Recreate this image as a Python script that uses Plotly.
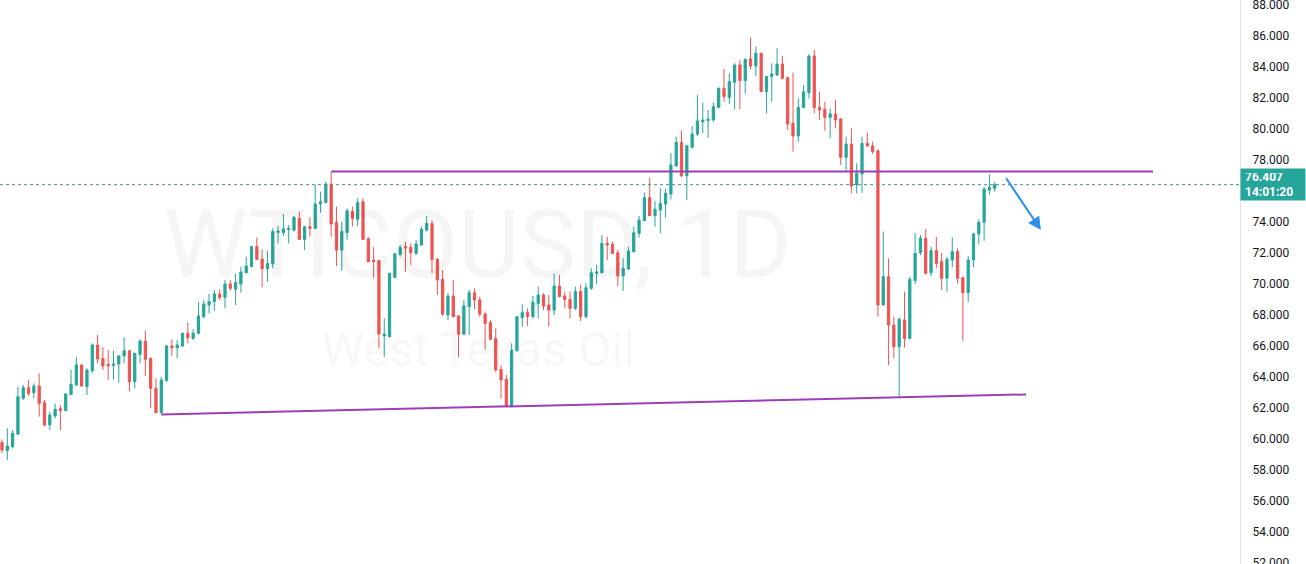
import plotly.graph_objs as go

# daily WTI candles (oldest first)
opens = [
    59.77, 59.25, 59.51, 60.32, 62.63, 63.31, 62.99, 63.42, 62.35, 60.91,
    61.49, 61.96, 61.83, 62.88, 63.49, 64.78, 63.38, 64.41, 66.07, 65.20,
    64.82, 64.75, 64.84, 65.36, 65.70, 63.70, 65.46, 66.32, 65.20, 63.27,
    61.70, 63.77, 66.00, 65.89, 66.00, 66.82, 66.50, 66.82, 67.89, 68.65,
    68.86, 69.36, 69.14, 70.00, 69.66, 70.00, 70.73, 71.12, 72.41, 71.61,
    70.99, 71.29, 73.33, 73.31, 73.51, 73.48, 74.24, 72.88, 73.70, 73.59,
    75.16, 75.25, 76.45, 73.96, 72.19, 73.31, 74.67, 74.17, 75.31, 72.92,
    71.55, 71.51, 66.65, 66.60, 70.43, 71.91, 72.41, 72.37, 71.98, 72.52,
    73.48, 73.91, 71.59, 70.30, 68.00, 69.23, 67.94, 66.77, 68.54, 69.44,
    68.97, 68.06, 67.51, 66.49, 64.49, 63.85, 62.09, 65.70, 67.83, 68.17,
    67.89, 68.75, 69.29, 68.65, 68.32, 69.87, 69.23, 69.01, 68.43, 69.51,
    67.89, 69.72, 70.69, 70.73, 72.62, 72.56, 72.02, 70.52, 70.97, 72.09,
    73.27, 74.09, 75.57, 74.41, 74.77, 75.16, 75.81, 77.61, 79.14, 76.99,
    78.82, 79.66, 80.47, 80.54, 80.58, 81.40, 82.62, 82.04, 83.01, 84.13,
    83.12, 84.52, 84.06, 84.88, 82.41, 83.38, 83.48, 84.19, 83.31, 80.37,
    79.55, 81.38, 82.34, 84.71, 81.40, 81.27, 80.75, 80.97, 80.65, 78.17,
    79.03, 76.39, 77.10, 79.07, 78.90, 78.60, 68.65, 70.47, 67.35, 65.96,
    67.68, 66.49, 70.22, 72.02, 72.95, 70.73, 72.15, 71.44, 70.37, 71.55,
    72.09, 70.41, 69.44, 71.55, 73.23, 73.98, 76.06, 76.17,
]
highs = [
    59.98, 60.69, 60.58, 63.38, 63.49, 63.81, 63.59, 64.24, 62.52, 61.77,
    62.30, 62.20, 62.95, 64.45, 65.31, 64.84, 64.56, 66.17, 66.71, 65.92,
    65.74, 65.68, 65.42, 66.56, 65.74, 65.57, 66.43, 66.99, 65.27, 63.92,
    64.02, 66.07, 66.43, 66.39, 66.86, 67.51, 67.08, 68.86, 68.97, 69.36,
    69.61, 69.66, 70.26, 70.26, 70.69, 71.12, 71.76, 72.45, 73.01, 72.24,
    72.15, 73.59, 73.74, 74.52, 73.81, 74.39, 74.67, 73.74, 74.30, 76.39,
    75.96, 76.60, 77.25, 74.99, 74.02, 74.88, 74.99, 75.53, 75.53, 73.01,
    72.37, 71.55, 67.78, 70.73, 72.02, 72.52, 72.73, 72.62, 72.84, 73.70,
    74.39, 74.13, 71.66, 70.90, 69.40, 70.26, 68.00, 68.97, 69.61, 69.72,
    69.18, 68.22, 67.68, 67.14, 64.77, 64.13, 66.17, 67.94, 68.69, 68.43,
    69.23, 69.83, 69.40, 69.29, 70.69, 70.58, 69.51, 69.51, 69.83, 69.94,
    70.04, 71.01, 71.23, 73.16, 73.05, 72.73, 72.19, 71.66, 72.41, 73.70,
    74.39, 75.89, 76.86, 75.35, 76.17, 76.17, 78.43, 79.51, 79.89, 78.97,
    80.19, 82.19, 81.70, 81.23, 81.70, 82.69, 83.87, 83.59, 84.24, 84.45,
    84.56, 85.91, 85.31, 84.93, 83.42, 84.24, 85.20, 84.71, 83.38, 83.64,
    81.98, 82.84, 84.82, 85.10, 82.41, 81.76, 81.33, 81.87, 80.69, 79.51,
    80.04, 77.79, 79.51, 79.76, 79.18, 78.69, 73.38, 71.66, 67.89, 67.85,
    69.51, 70.47, 73.31, 73.16, 73.55, 72.41, 73.05, 72.02, 71.76, 73.01,
    72.30, 70.47, 71.81, 73.31, 74.17, 76.24, 77.08, 76.60,
]
lows = [
    59.08, 58.65, 59.40, 60.26, 62.52, 62.78, 62.63, 61.44, 60.80, 60.58,
    61.34, 60.58, 61.80, 62.84, 63.42, 63.38, 62.84, 64.24, 64.88, 64.45,
    63.81, 63.85, 63.64, 64.88, 63.06, 63.27, 64.88, 64.07, 61.98, 61.66,
    61.62, 63.70, 65.36, 65.21, 65.96, 66.17, 66.39, 66.78, 67.79, 68.11,
    68.28, 68.97, 68.43, 69.57, 68.65, 69.44, 70.69, 71.08, 71.55, 69.78,
    70.15, 71.01, 72.62, 73.10, 72.62, 73.38, 72.84, 72.19, 73.05, 73.53,
    74.60, 75.20, 73.05, 71.16, 70.86, 72.84, 73.70, 73.74, 72.84, 71.40,
    70.37, 65.85, 65.31, 66.56, 70.37, 71.76, 70.80, 71.23, 71.87, 72.45,
    73.38, 70.69, 69.29, 67.94, 67.68, 67.85, 65.27, 66.71, 66.71, 68.37,
    67.89, 65.74, 66.39, 64.34, 62.62, 62.05, 62.05, 65.63, 67.25, 67.29,
    67.78, 67.78, 68.32, 67.25, 68.00, 69.15, 68.43, 67.78, 68.32, 67.61,
    67.78, 69.61, 70.00, 70.69, 71.55, 71.91, 69.87, 69.55, 70.90, 72.02,
    72.99, 74.06, 74.39, 73.70, 73.27, 74.28, 75.46, 77.57, 76.92, 75.42,
    78.75, 79.55, 79.72, 79.44, 80.47, 81.33, 81.76, 81.61, 81.27, 81.27,
    82.30, 83.85, 83.42, 82.37, 81.01, 81.76, 83.42, 83.20, 79.94, 78.54,
    79.18, 81.33, 81.98, 81.01, 80.58, 79.89, 79.40, 80.04, 77.68, 77.25,
    75.85, 75.85, 75.89, 78.86, 78.39, 67.89, 68.60, 64.77, 65.20, 62.73,
    65.91, 66.43, 70.00, 71.87, 70.62, 70.52, 71.01, 69.61, 69.51, 71.08,
    70.04, 66.34, 68.82, 71.08, 72.56, 72.80, 75.78, 75.96,
]
closes = [
    59.29, 59.55, 60.37, 62.73, 63.31, 62.95, 63.42, 62.30, 60.91, 61.55,
    61.92, 61.83, 62.91, 63.53, 64.78, 63.42, 64.45, 66.07, 65.16, 64.71,
    64.73, 64.84, 65.36, 65.70, 63.70, 65.53, 66.32, 65.14, 63.27, 61.70,
    63.81, 66.00, 65.89, 66.07, 66.82, 66.54, 66.82, 67.94, 68.71, 68.86,
    69.36, 69.14, 70.00, 69.72, 70.09, 70.77, 71.16, 72.41, 71.59, 70.99,
    71.33, 73.38, 73.42, 73.55, 73.59, 74.30, 72.88, 73.70, 73.59, 75.16,
    75.31, 76.45, 73.87, 72.19, 73.38, 74.73, 74.24, 75.25, 72.88, 71.44,
    71.44, 66.77, 66.77, 70.69, 71.94, 72.37, 72.32, 72.02, 72.58, 73.53,
    73.91, 71.59, 70.26, 68.06, 69.23, 67.89, 66.77, 68.58, 69.44, 68.97,
    68.06, 67.46, 66.43, 64.45, 63.81, 62.09, 65.74, 67.89, 68.17, 67.89,
    68.82, 69.29, 68.58, 68.32, 69.87, 69.18, 69.01, 68.43, 69.51, 67.89,
    69.76, 70.73, 70.77, 72.62, 72.52, 71.98, 70.52, 71.01, 72.13, 73.31,
    74.13, 75.57, 74.41, 74.82, 75.20, 75.85, 77.68, 79.14, 76.97, 78.92,
    79.68, 80.52, 80.58, 80.63, 81.44, 82.62, 82.09, 83.05, 84.13, 83.12,
    84.49, 84.06, 84.88, 82.41, 83.38, 83.55, 84.19, 83.27, 80.32, 79.55,
    81.40, 82.39, 84.71, 81.38, 81.23, 80.75, 80.97, 80.58, 78.17, 79.03,
    76.32, 77.14, 79.07, 78.90, 78.54, 68.65, 70.47, 67.35, 65.96, 67.72,
    66.49, 70.30, 71.98, 72.95, 70.69, 72.15, 71.33, 70.37, 71.59, 72.09,
    70.37, 69.44, 71.55, 73.23, 73.98, 76.13, 76.24, 76.41,
]
bars = list(range(len(closes)))

last_price = 76.407
countdown = "14:01:20"
# 76 is hidden behind the last-price label
price_ticks = [52, 54, 56, 58, 60, 62, 64, 66, 68, 70, 72, 74, 78, 80, 82, 84, 86, 88]

# drawings: [bar index, price] for each end
resistance = [[62, 77.25], [216.8, 77.25]]
support = [[30, 61.59], [192.9, 62.88]]
arrow = [[188.96, 76.92], [195.7, 73.48]]

# watermark
wm_text = ["WTICOUSD, 1D", "West Texas Oil"]
wm_x = [89.6, 89.7]
wm_y = [72.0, 65.5]
wm_size = [95, 48]

green = "#26a69a"
red = "#ef5350"
purple = "#9c3fb5"

fig = go.Figure()

fig.add_trace(go.Scatter(
    x=wm_x, y=wm_y, mode="text", text=wm_text,
    textposition="middle center",
    textfont=dict(family="Roboto", size=wm_size, color="rgba(19,23,34,0.045)"),
    hoverinfo="skip", showlegend=False,
))

fig.add_trace(go.Candlestick(
    x=bars, open=opens, high=highs, low=lows, close=closes,
    increasing=dict(line=dict(color=green, width=1), fillcolor=green),
    decreasing=dict(line=dict(color=red, width=1), fillcolor=red),
    whiskerwidth=0,
    showlegend=False,
))

fig.add_shape(type="line", xref="paper", x0=0, x1=1, yref="y",
              y0=last_price, y1=last_price,
              line=dict(color="#3f8f8a", width=1, dash="dot"))
fig.add_shape(type="line",
              x0=resistance[0][0], y0=resistance[0][1],
              x1=resistance[1][0], y1=resistance[1][1],
              line=dict(color=purple, width=2))
fig.add_shape(type="line",
              x0=support[0][0], y0=support[0][1],
              x1=support[1][0], y1=support[1][1],
              line=dict(color=purple, width=2))

fig.add_annotation(
    x=arrow[1][0], y=arrow[1][1], ax=arrow[0][0], ay=arrow[0][1],
    xref="x", yref="y", axref="x", ayref="y",
    text="", showarrow=True, arrowhead=2, arrowsize=1.3,
    arrowwidth=2, arrowcolor="#2f8ee8",
)

fig.add_annotation(
    xref="paper", x=1, xanchor="left", yref="y", y=last_price, yanchor="middle",
    text="<b>%.3f</b><br><b>%s</b>" % (last_price, countdown),
    showarrow=False, align="left", width=56, height=23,
    bgcolor=green, borderpad=4,
    font=dict(family="Roboto", size=12, color="white"),
)

fig.update_layout(
    width=1306, height=564,
    margin=dict(l=0, r=66, t=0, b=0, autoexpand=False),
    paper_bgcolor="white", plot_bgcolor="white",
    boxgap=0.4,
    xaxis=dict(range=[-0.38, 233.2], visible=False, rangeslider=dict(visible=False),
               showgrid=False, zeroline=False),
    yaxis=dict(side="right", range=[51.94, 88.32], showgrid=False, zeroline=False,
               automargin=False,
               tickvals=price_ticks, ticktext=["%.3f" % t for t in price_ticks],
               ticks="", showline=True, linecolor="#e0e3eb", linewidth=1,
               ticklabelstandoff=9, ticklabeloverflow="allow",
               tickfont=dict(family="Roboto", size=12, color="#131722")),
    hovermode=False,
)

fig.write_html("out.html", config={"displayModeBar": False},
               post_script="document.body.style.margin='0';")
